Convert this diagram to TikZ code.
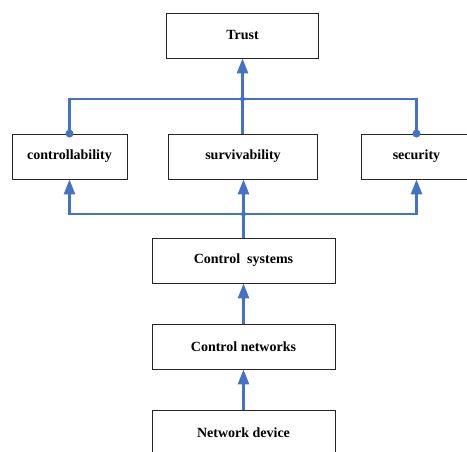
\documentclass[tikz,border=0pt]{standalone}
\usepackage{fontspec}
\setmainfont{Liberation Serif}
\usetikzlibrary{arrows.meta}
\definecolor{lineblue}{HTML}{4472C4}
\begin{document}
\begin{tikzpicture}[x=1pt,y=-1pt,
  box/.style={draw=black!85, line width=0.9pt, fill=white, minimum height=45pt, inner sep=0pt,
              font=\fontsize{14}{16}\selectfont\bfseries},
  conn/.style={draw=lineblue, line width=2.6pt},
  arr/.style={conn, -{Triangle[length=15pt,width=11pt]}},
  dot/.style={circle, fill=lineblue, inner sep=0pt, minimum size=#1}
]
\useasboundingbox (0,0) rectangle (467,452);
\clip (0,0) rectangle (467,452);
\fill[white] (0,0) rectangle (467,452);

\node[box, minimum width=152pt] (trust) at (242.5,35.5) {Trust};
\node[box, minimum width=115pt] (ctrl) at (69.5,156.5) {controllability};
\node[box, minimum width=149pt] (surv) at (243,156.5) {survivability};
\node[box, minimum width=111pt] (sec) at (416.5,156.5) {security};
\node[box, minimum width=183pt] (cs) at (243.5,260.5) {Control\ \ systems};
\node[box, minimum width=183pt] (cn) at (243.5,346.5) {Control networks};
\node[box, minimum width=183pt] (nd) at (243.5,432.5) {Network device};

\coordinate (j1) at (242.5,99);
\coordinate (j2) at (243.5,214);

% upper level
\draw[conn] (ctrl.north) |- (j1) -| (sec.north);
\draw[conn] (j1 |- surv.north) -- (j1);
\draw[arr] (j1) -- (trust.south);
\node[dot=8pt] (d1) at (ctrl.north) {};
\node[dot=8pt] (d2) at (sec.north) {};
\node[dot=5pt] (d3) at (j1) {};

% lower level
\draw[conn] (cs.north) -- (j2);
\draw[arr] (j2) -| (ctrl.south);
\draw[arr] (j2) -| (sec.south);
\draw[arr] (j2) -- (j2 |- surv.south);
\node[dot=5pt] (d4) at (j2) {};

\draw[arr] (cn.north) -- (cs.south);
\draw[arr] (nd.north) -- (cn.south);
\end{tikzpicture}
\end{document}
